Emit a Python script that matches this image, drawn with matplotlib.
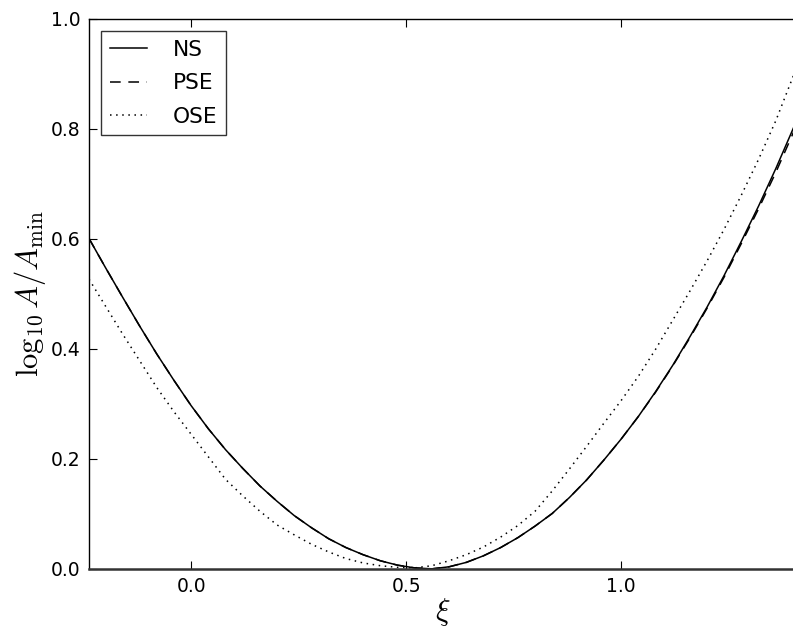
import matplotlib
matplotlib.use("Agg")
import matplotlib.pyplot as plt

plt.rcParams['mathtext.fontset'] = 'cm'
plt.rcParams['font.family'] = ['DejaVu Sans']

xi = [-0.2376, -0.20, -0.16, -0.12, -0.08, -0.04, 0.00, 0.04, 0.08, 0.12, 0.16, 0.20,
      0.24, 0.28, 0.32, 0.36, 0.40, 0.44, 0.48, 0.52, 0.56, 0.60, 0.64, 0.68, 0.72,
      0.76, 0.80, 0.84, 0.88, 0.92, 0.96, 1.00, 1.04, 1.08, 1.12, 1.16, 1.20, 1.24,
      1.28, 1.32, 1.36, 1.40, 1.407]

ns = [0.601, 0.549, 0.495, 0.442, 0.391, 0.343, 0.297, 0.255, 0.217, 0.183, 0.151, 0.123,
      0.097, 0.075, 0.055, 0.039, 0.026, 0.015, 0.007, 0.002, 0.0003, 0.004, 0.012, 0.024, 0.039,
      0.057, 0.078, 0.101, 0.130, 0.162, 0.198, 0.236, 0.277, 0.322, 0.370, 0.422, 0.476, 0.534,
      0.596, 0.660, 0.728, 0.800, 0.813]

pse = [0.601, 0.549, 0.495, 0.442, 0.391, 0.343, 0.297, 0.255, 0.217, 0.183, 0.151, 0.123,
       0.097, 0.075, 0.055, 0.039, 0.026, 0.015, 0.007, 0.002, 0.0003, 0.004, 0.012, 0.024, 0.039,
       0.057, 0.078, 0.101, 0.130, 0.162, 0.198, 0.236, 0.277, 0.321, 0.369, 0.420, 0.474, 0.531,
       0.592, 0.655, 0.721, 0.792, 0.805]

ose = [0.527, 0.479, 0.428, 0.379, 0.330, 0.286, 0.245, 0.204, 0.163, 0.133, 0.105, 0.080,
       0.062, 0.045, 0.031, 0.019, 0.011, 0.006, 0.003, 0.002, 0.006, 0.015, 0.026, 0.040, 0.058,
       0.079, 0.105, 0.142, 0.182, 0.223, 0.265, 0.306, 0.350, 0.399, 0.452, 0.505, 0.560, 0.618,
       0.680, 0.745, 0.815, 0.895, 0.909]

labels = ["NS", "PSE", "OSE"]
xticks = [0.0, 0.5, 1.0]
yticks = [0.0, 0.2, 0.4, 0.6, 0.8, 1.0]

W, H = 793, 631
fig = plt.figure(figsize=(W / 100, H / 100), dpi=100)
ax = fig.add_axes([89 / W, 62 / H, (796 - 89) / W, (569 - 19) / H])

ax.plot(xi, ns, color='black', lw=1.1, ls='-', label=labels[0])
ax.plot(xi, pse, color='black', lw=1.1, dashes=(7, 5), label=labels[1])
ax.plot(xi, ose, color='black', lw=1.1, dashes=(1, 3), label=labels[2])

ax.set_xlim(-0.2376, 1.407)
ax.set_ylim(0.0, 1.0)
ax.set_xticks(xticks)
ax.set_yticks(yticks)
ax.set_xticklabels([f"{t:.1f}" for t in xticks])
ax.set_yticklabels([f"{t:.1f}" for t in yticks])
ax.tick_params(direction='in', length=5.5, width=0.8, labelsize=13.5, top=True, right=False,
               pad=6)
for s in ax.spines.values():
    s.set_linewidth(1.0)
    s.set_color('black')
ax.spines['bottom'].set_linewidth(1.8)
ax.spines['bottom'].set_color('#333333')

ax.set_xlabel(r'$\xi$', fontsize=22, labelpad=0)
ax.set_ylabel(r'$\log_{10}A/A_{\min}$', fontsize=22, labelpad=2)

leg = ax.legend(loc='upper left', fontsize=15.7, handlelength=1.7, frameon=True,
                fancybox=False, borderaxespad=0.55, handletextpad=1.2, labelspacing=0.62,
                borderpad=0.4)
leg.get_frame().set_edgecolor('black')
leg.get_frame().set_linewidth(1.0)

fig.savefig('out.png', dpi=100)
